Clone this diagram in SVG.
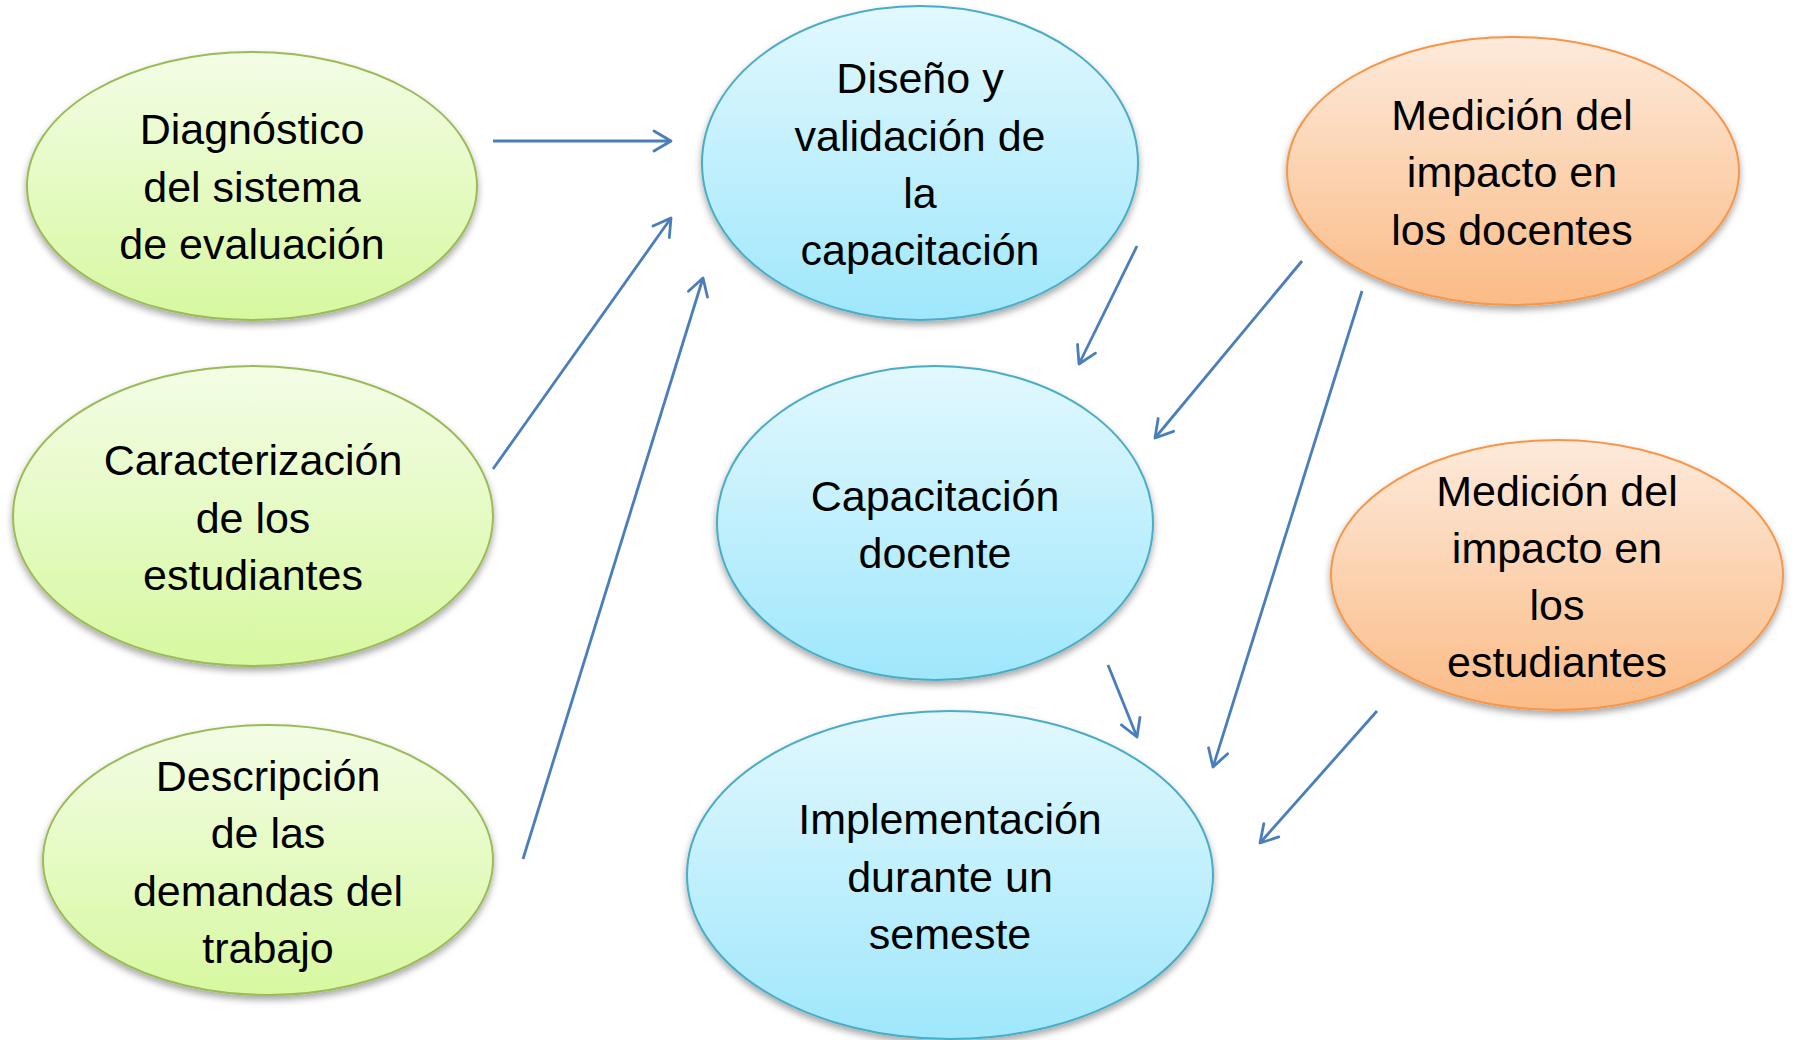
<svg xmlns="http://www.w3.org/2000/svg" width="1799" height="1040" viewBox="0 0 1799 1040">
<style>
.t{font-family:"Liberation Sans",Arial,sans-serif;font-size:43px;fill:#000;text-anchor:middle}
.g{fill:url(#gg);stroke:#9bbb59;stroke-width:2}
.b{fill:url(#gb);stroke:#4bacc6;stroke-width:2}
.o{fill:url(#go);stroke:#f79646;stroke-width:2}
.e{filter:url(#sh)}
.c line{stroke:#4a7ebb;stroke-width:2.8;fill:none;marker-end:url(#ah)}
</style>
<defs>
<linearGradient id="gg" x1="0" y1="0" x2="0" y2="1"><stop offset="0" stop-color="#f3fde6"/><stop offset="1" stop-color="#d7f8a0"/></linearGradient>
<linearGradient id="gb" x1="0" y1="0" x2="0" y2="1"><stop offset="0" stop-color="#e2f8fe"/><stop offset="1" stop-color="#9fe7fc"/></linearGradient>
<linearGradient id="go" x1="0" y1="0" x2="0" y2="1"><stop offset="0" stop-color="#fdeadb"/><stop offset="1" stop-color="#fbbb86"/></linearGradient>
<filter id="sh" x="-10%" y="-10%" width="120%" height="125%"><feDropShadow dx="0" dy="4" stdDeviation="3.5" flood-color="#000" flood-opacity="0.35"/></filter>
<marker id="ah" markerUnits="userSpaceOnUse" viewBox="-2 -12 22 24" refX="17" refY="0" markerWidth="22" markerHeight="24" orient="auto"><path d="M0,-10 L17,0 L0,10" fill="none" stroke="#4a7ebb" stroke-width="2.8" stroke-linecap="round" stroke-linejoin="round"/></marker>
</defs>
<g id="n1"><ellipse class="g e" cx="252" cy="186" rx="225" ry="134"/><text class="t" x="252" y="144">Diagnóstico</text><text class="t" x="252" y="201.5">del sistema</text><text class="t" x="252" y="259">de evaluación</text></g>
<g id="n2"><ellipse class="g e" cx="253" cy="516" rx="240" ry="150"/><text class="t" x="253" y="475">Caracterización</text><text class="t" x="253" y="532.5">de los</text><text class="t" x="253" y="590">estudiantes</text></g>
<g id="n3"><ellipse class="g e" cx="268" cy="860" rx="225" ry="135"/><text class="t" x="268" y="790.5">Descripción</text><text class="t" x="268" y="848">de las</text><text class="t" x="268" y="905.5">demandas del</text><text class="t" x="268" y="963">trabajo</text></g>
<g id="n4"><ellipse class="b e" cx="920" cy="163" rx="218" ry="157"/><text class="t" x="920" y="93">Diseño y</text><text class="t" x="920" y="150.5">validación de</text><text class="t" x="920" y="208">la</text><text class="t" x="920" y="265">capacitación</text></g>
<g id="n5"><ellipse class="b e" cx="935" cy="523" rx="218" ry="157"/><text class="t" x="935" y="510.5">Capacitación</text><text class="t" x="935" y="568">docente</text></g>
<g id="n6"><ellipse class="b e" cx="950" cy="875" rx="263" ry="164"/><text class="t" x="950" y="834">Implementación</text><text class="t" x="950" y="891.5">durante un</text><text class="t" x="950" y="949">semeste</text></g>
<g id="n7"><ellipse class="o e" cx="1513" cy="171" rx="226" ry="134"/><text class="t" x="1512" y="129.5">Medición del</text><text class="t" x="1512" y="187">impacto en</text><text class="t" x="1512" y="244.5">los docentes</text></g>
<g id="n8"><ellipse class="o e" cx="1557" cy="575" rx="226" ry="135"/><text class="t" x="1557" y="505.5">Medición del</text><text class="t" x="1557" y="562.5">impacto en</text><text class="t" x="1557" y="620">los</text><text class="t" x="1557" y="677">estudiantes</text></g>
<g id="connectors" class="c">
<line x1="493" y1="141" x2="671" y2="141"/>
<line x1="493" y1="469" x2="671" y2="218"/>
<line x1="523" y1="859" x2="703" y2="278"/>
<line x1="1137" y1="246" x2="1079" y2="364"/>
<line x1="1302" y1="261" x2="1155" y2="438"/>
<line x1="1362" y1="291" x2="1213" y2="767"/>
<line x1="1108" y1="665" x2="1137" y2="737"/>
<line x1="1377" y1="711" x2="1260" y2="843"/>
</g>
</svg>
